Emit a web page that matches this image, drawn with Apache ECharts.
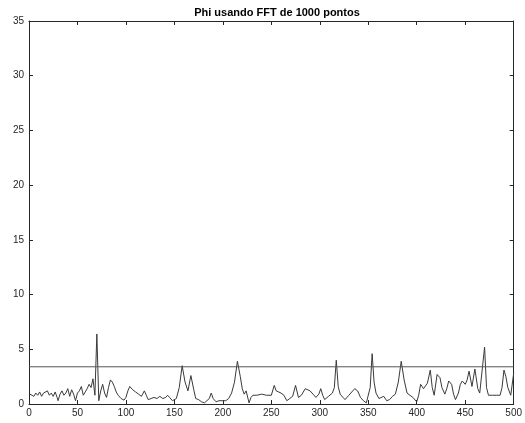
<!DOCTYPE html>
<html>
<head>
<meta charset="utf-8">
<script src="https://cdn.jsdelivr.net/npm/echarts@6/dist/echarts.min.js"></script>
<style>html,body{margin:0;padding:0;background:#fff;}#c{width:525px;height:423px;}</style>
</head>
<body>
<div id="c"></div>
<script>
const titleText = 'Phi usando FFT de 1000 pontos';
const freq = [1,3,5,7,9,11,13,15,17,19,21,23,25,27,29,30,32,34,36,38,40,42,44,46,48,50,52,54,56,58,60,62,64,66,68,70,72,74,76,78,80,82,84,86,88,90,92,95,98,100,102,104,107,110,113,116,119,121,123,126,129,132,135,138,141,143,145,148,150,152,155,158,161,164,167,170,172,175,178,181,183,186,188,190,193,196,200,203,206,209,212,215,218,220,222,224,227,229,231,235,240,245,250,253,255,257,260,263,266,269,272,275,278,281,285,290,293,296,299,301,303,305,309,313,315,317,319,321,324,326,330,334,336,339,342,345,348,350,352,354,356,358,361,363,366,369,372,375,378,381,384,387,390,393,396,400,402,404,407,409,411,414,416,418,421,424,426,429,431,433,436,438,440,443,445,447,450,452,454,457,460,463,465,467,470,472,474,478,482,486,488,490,492,494,497,500];
const phi = [0.9,1.0,0.7,1.0,0.8,1.1,0.7,1.0,0.9,1.2,0.8,1.0,0.7,1.1,0.6,0.3,0.9,1.2,0.8,1.0,1.4,0.7,1.3,0.9,0.3,1.0,1.2,1.6,0.8,1.1,1.4,1.8,1.5,2.3,0.8,6.4,0.3,1.2,1.8,1.0,0.6,1.5,2.2,2.0,1.6,1.1,0.8,0.5,0.35,0.6,1.2,1.6,1.3,1.1,0.9,0.7,1.2,0.8,0.4,0.5,0.6,0.5,0.7,0.5,0.6,0.8,0.6,0.3,0.4,0.5,1.5,3.5,2.0,1.2,2.6,1.3,0.5,0.4,0.2,0.1,0.1,0.5,1.0,0.5,0.2,0.3,0.3,0.3,0.5,1.0,2.0,3.9,2.5,1.4,0.9,1.2,0.1,0.6,0.8,0.8,0.9,0.8,0.8,1.7,1.2,1.3,1.0,0.8,0.3,0.5,0.7,1.7,0.6,0.8,1.4,1.2,0.9,0.6,0.9,1.4,0.8,0.4,0.7,1.0,1.5,4.0,1.6,0.9,0.6,0.4,0.8,1.2,1.4,1.2,0.6,0.3,0.1,0.2,1.5,4.6,2.0,1.0,0.5,0.4,0.7,0.3,0.4,0.7,0.9,2.0,3.9,2.2,1.0,0.8,0.6,0.2,0.8,1.8,1.4,1.5,1.9,3.1,1.5,0.8,2.7,2.4,1.5,0.9,1.4,2.1,1.8,0.9,0.4,1.0,1.8,2.1,1.8,2.2,3.0,1.6,3.2,1.4,1.0,1.0,5.2,1.5,0.8,0.8,0.8,0.8,1.5,3.1,2.5,1.5,0.8,2.8];
const threshold = 3.4;
const xRange = [0, 500];
const xTicks = [0,50,100,150,200,250,300,350,400,450,500];
const yTicks = [0,5,10,15,20,25,30,35];

const axisColor = '#262626';
const font = 'Liberation Sans, Arial, Helvetica, sans-serif';
const chart = echarts.init(document.getElementById('c'), null, {renderer:'canvas'});
const baseX = {type:'value', min:0, max:500, interval:50,
  axisLine:{show:true, onZero:false, lineStyle:{color:axisColor, width:1}},
  axisTick:{show:true, inside:true, length:4, lineStyle:{color:axisColor}},
  splitLine:{show:false}};
const baseY = {type:'value', min:0, max:35, interval:5,
  axisLine:{show:true, onZero:false, lineStyle:{color:axisColor, width:1}},
  axisTick:{show:true, inside:true, length:4, lineStyle:{color:axisColor}},
  splitLine:{show:false}};
chart.setOption({
  animation:false,
  backgroundColor:'#fff',
  title:{text:titleText, left:272, top:2, textAlign:'center',
    textStyle:{fontFamily:font, fontSize:11, fontWeight:'bold', color:'#000'}},
  grid:{left:29, right:10, top:21, bottom:19, containLabel:false},
  xAxis:[
    Object.assign({}, baseX, {position:'bottom',
      axisLabel:{show:true, color:axisColor, fontFamily:font, fontSize:10, margin:4}}),
    Object.assign({}, baseX, {position:'top', axisLabel:{show:false}})
  ],
  yAxis:[
    Object.assign({}, baseY, {position:'left',
      axisLabel:{show:true, color:axisColor, fontFamily:font, fontSize:10, margin:5}}),
    Object.assign({}, baseY, {position:'right', axisLabel:{show:false}})
  ],
  series:[
    {type:'line', data:freq.map((f,i)=>[f, phi[i]]), symbol:'none',
      lineStyle:{color:'#3a3a3a', width:1}, xAxisIndex:0, yAxisIndex:0},
    {type:'line', data:xRange.map(x=>[x, threshold]), symbol:'none',
      lineStyle:{color:'#555', width:1}, xAxisIndex:0, yAxisIndex:0}
  ]
});
</script>
</body>
</html>
